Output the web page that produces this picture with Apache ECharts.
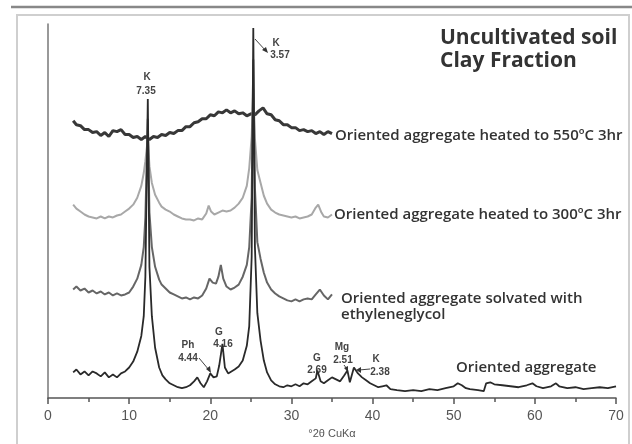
<!DOCTYPE html>
<html><head><meta charset="utf-8">
<script src="https://cdn.jsdelivr.net/npm/echarts@6/dist/echarts.min.js"></script>
<style>html,body{margin:0;padding:0;background:#fff}#c{width:632px;height:444px}</style>
</head><body><div id="c"></div>
<script>
// x ticks
const xTicks = [0, 10, 20, 30, 40, 50, 60, 70];
const xAxisTitle = '°2θ CuKα';
const titleLines = ['Uncultivated soil', 'Clay Fraction'];
const seriesNames = ['Oriented aggregate heated to 550ºC 3hr', 'Oriented aggregate heated to 300ºC 3hr', 'Oriented aggregate solvated with\nethyleneglycol', 'Oriented aggregate'];

// Trace 1: heated to 550 C (offset intensity, arbitrary units)
const x550 = [3.1,3.5,4,4.5,5,5.5,6,6.5,7,7.5,8,8.5,9,9.5,10,10.5,11,11.5,12,12.5,13,13.5,14,14.5,15,15.5,16,16.5,17,17.5,18,18.5,19,19.5,20,20.5,21,21.5,22,22.5,23,23.5,24,24.5,25,25.5,26,26.5,27,27.5,28,28.5,29,29.5,30,30.5,31,31.5,32,32.5,33,33.5,34,34.5,35];
const y550 = [281,277,276,272,272,269,270,266,269,265,271,270,272,267,267,264,265,262,265,262,265,264,267,266,269,268,271,271,275,275,279,280,283,283,287,286,290,289,292,289,291,288,289,286,288,287,291,294,288,287,282,281,277,277,274,274,271,272,270,271,268,270,267,270,268];

// Trace 2: heated to 300 C
const x300 = [3.1,3.5,4,4.5,5,5.5,6,6.5,7,7.5,8,8.5,9,9.5,10,10.5,11,11.5,11.8,12.0,12.3,12.5,12.8,13.2,13.7,14,14.5,15,15.5,16,16.5,17,17.5,18,18.5,19,19.5,19.8,20.1,20.5,21,21.5,22,22.5,23,23.5,24,24.5,24.8,25.1,25.3,25.5,25.8,26.2,26.6,27,27.5,28,28.5,29,29.5,30,30.5,31,31.5,32,32.5,33,33.3,33.7,34,34.5,35];
const y300 = [196,192,189,186,184,183,182,184,182,184,183,185,186,189,192,196,203,215,228,240,263,235,218,206,198,194,191,189,186,184,182,181,181,180,182,181,187,195,189,186,188,190,189,190,193,197,203,215,233,265,313,263,231,218,205,197,191,188,186,185,184,183,184,182,183,184,186,193,196,188,184,183,186];

// Trace 3: solvated with ethyleneglycol
const xGly = [3.1,3.5,4,4.5,5,5.5,6,6.5,7,7.5,8,8.5,9,9.5,10,10.5,11,11.5,11.8,12.0,12.3,12.5,12.8,13.2,13.7,14,14.5,15,15.5,16,16.5,17,17.5,18,18.5,19,19.5,19.9,20.3,20.7,21.0,21.3,21.6,22,22.5,23,23.5,24,24.5,24.8,25.1,25.3,25.5,25.8,26.2,26.6,27,27.5,28,28.5,29,29.5,30,30.5,31,31.5,32,32.5,33,33.5,34,34.5,35];
const yGly = [110,113,109,111,107,109,106,108,105,107,104,106,104,105,107,113,121,135,153,183,283,188,153,133,120,115,111,107,105,103,101,102,100,102,101,104,111,121,117,116,123,135,121,113,110,112,115,123,135,153,203,343,213,158,141,127,117,110,106,103,101,99,98,100,98,100,101,100,105,110,104,100,105];

// Trace 4: oriented aggregate
const xOri = [3.1,3.5,4,4.5,5,5.5,6,6.5,7,7.5,8,8.5,9,9.5,10,10.5,11,11.5,11.8,12.0,12.3,12.5,12.8,13.2,13.7,14.1,14.5,15,15.5,16,16.5,17,17.5,18,18.4,18.8,19.2,19.6,20.0,20.4,20.8,21.1,21.5,21.8,22.2,22.6,23,23.5,24,24.5,24.8,25.1,25.3,25.5,25.8,26.2,26.6,27,27.5,28,28.5,29,29.5,30,30.5,31,31.5,32,32.5,33,33.2,33.6,34,34.5,35,35.5,36,36.5,36.9,37.2,37.7,38.2,38.7,39.2,39.7,40.2,40.7,41.2,41.7,42.2,43,44,45,46,47,48,49,50,50.5,51,51.5,52,53,53.7,54,54.5,55,56,57,58,59,59.7,60.2,61,62,62.6,63,64,65,66,67,68,69,70];
const yOri = [26,29,24,27,23,27,25,22,26,21,24,21,25,27,31,37,47,63,83,123,303,133,83,51,31,23,19,15,13,11,10,11,13,17,21,15,11,17,25,21,22,33,55,31,25,27,29,32,38,53,73,143,375,153,86,58,38,26,18,14,12,11,13,12,14,12,15,14,17,20,28,17,15,18,21,19,17,23,28,16,31,25,21,18,15,13,11,12,13,9,8,7,8,7,9,8,10,12,15,13,10,9,8,7,15,16,14,13,12,11,13,15,12,10,12,15,12,10,11,9,10,11,10,12];

// Peak annotations
const peakLabels = [
  {t:'K', x:147, y:77}, {t:'7.35', x:146, y:91},
  {t:'K', x:276, y:43}, {t:'3.57', x:280, y:55},
  {t:'Ph', x:188, y:345}, {t:'4.44', x:188, y:358},
  {t:'G', x:219, y:332}, {t:'4.16', x:223, y:344},
  {t:'G', x:317, y:358}, {t:'2.69', x:317, y:370},
  {t:'Mg', x:342, y:347}, {t:'2.51', x:343, y:360},
  {t:'K', x:376, y:359}, {t:'2.38', x:380, y:372}
];

const pair = (xs, ys) => xs.map((x, i) => [x, ys[i]]);

const chart = echarts.init(document.getElementById('c'), null, {renderer: 'canvas'});
const sf = '600 15px "Open Sans"';
const graphics = [
  {type:'line', shape:{x1:11, y1:7, x2:632, y2:7}, style:{stroke:'#888', lineWidth:2.5}, silent:true},
  {type:'rect', shape:{x:17, y:15, width:612, height:440}, style:{fill:'none', stroke:'#cfcfcf', lineWidth:2}, silent:true},
  {type:'text', left:440, top:28, style:{text:titleLines[0], font:'bold 21px "Open Sans"', fill:'#333'}},
  {type:'text', left:440, top:51, style:{text:titleLines[1], font:'bold 21px "Open Sans"', fill:'#333'}},
  {type:'text', left:335, top:128, style:{text:seriesNames[0], font:sf, fill:'#333'}},
  {type:'text', left:334, top:207, style:{text:seriesNames[1], font:sf, fill:'#333'}},
  {type:'text', left:341, top:291, style:{text:seriesNames[2], font:sf, fill:'#333', lineHeight:16}},
  {type:'text', left:456, top:360, style:{text:seriesNames[3], font:sf, fill:'#333'}},
  // arrows
  {type:'line', shape:{x1:255, y1:39, x2:266, y2:51}, style:{stroke:'#444', lineWidth:1}},
  {type:'polygon', shape:{points:[[268,53],[262,50],[266,47]]}, style:{fill:'#333'}},
  {type:'line', shape:{x1:199, y1:358, x2:209, y2:370}, style:{stroke:'#444', lineWidth:1}},
  {type:'polygon', shape:{points:[[211,373],[206,369],[210,366]]}, style:{fill:'#333'}},
  {type:'line', shape:{x1:344, y1:365, x2:347, y2:369}, style:{stroke:'#444', lineWidth:1}},
  {type:'polygon', shape:{points:[[348,372],[344,368],[348,366]]}, style:{fill:'#333'}},
  {type:'line', shape:{x1:370, y1:369, x2:359, y2:370}, style:{stroke:'#444', lineWidth:1}},
  {type:'polygon', shape:{points:[[356,370],[361,367],[361,373]]}, style:{fill:'#333'}}
];
peakLabels.forEach(p => graphics.push({type:'text', x:p.x, y:p.y, style:{text:p.t, font:'bold 10px "Liberation Sans"', fill:'#444', align:'center', verticalAlign:'middle'}}));

chart.setOption({
  animation:false,
  backgroundColor:'#fff',
  grid:{left:48, right:16, top:24, bottom:41},
  xAxis:{
    type:'value', min:0, max:70, interval:10,
    name:xAxisTitle, nameLocation:'middle', nameGap:21,
    nameTextStyle:{fontSize:11, color:'#555', fontFamily:'Liberation Sans'},
    axisLine:{show:true, lineStyle:{color:'#555', width:1.5}},
    axisTick:{show:true, length:6, lineStyle:{color:'#555', width:1.5}},
    minorTick:{show:true, splitNumber:2, length:4, lineStyle:{color:'#555', width:1.5}},
    axisLabel:{fontSize:14, color:'#555', margin:11, fontFamily:'Liberation Sans', customValues: xTicks},
    splitLine:{show:false}
  },
  yAxis:{
    type:'value', min:0, max:379,
    axisLine:{show:true, lineStyle:{color:'#777', width:1.5}},
    axisTick:{show:false}, axisLabel:{show:false}, splitLine:{show:false}
  },
  series:[
    {type:'line', data:pair(x550, y550), showSymbol:false, lineStyle:{color:'#383838', width:3}, z:2},
    {type:'line', data:pair(x300, y300), showSymbol:false, lineStyle:{color:'#a8a8a8', width:2}, z:3},
    {type:'line', data:pair(xGly, yGly), showSymbol:false, lineStyle:{color:'#666', width:2}, z:4},
    {type:'line', data:pair(xOri, yOri), showSymbol:false, lineStyle:{color:'#2a2a2a', width:1.8}, z:5}
  ],
  graphic:graphics
});
</script></body></html>
